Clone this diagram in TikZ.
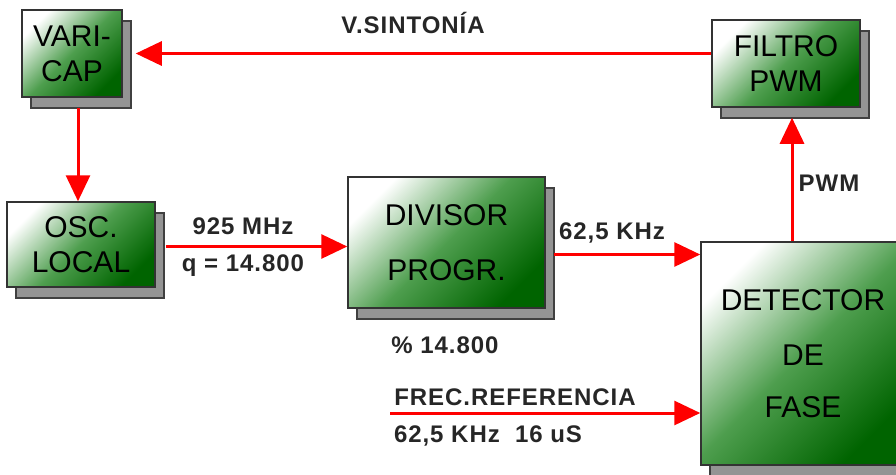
\documentclass[tikz,border=0pt]{standalone}
\usepackage{fontspec}
\setmainfont{Liberation Sans}
\usetikzlibrary{arrows.meta, shadows, positioning}
\definecolor{boxgreen}{RGB}{0,100,0}
\definecolor{midgreen}{RGB}{78,158,78}
\definecolor{sigred}{RGB}{255,0,0}
\begin{document}
\begin{tikzpicture}[x=1pt,y=-1pt]
\tikzstyle{block} = [
	shape=rectangle,
	draw=black!80, %dark border round the box
	line width=1.5pt,
	top color=white, bottom color=boxgreen, middle color=midgreen,
	shading angle=45, %white in the upper left corner
	inner sep=0pt,
	align=center,
	font=\fontsize{30}{35}\selectfont,
	general shadow={shadow xshift=9pt, shadow yshift=-11pt, fill=black!42, draw=black!75, line width=1.2pt}
];
\tikzstyle{sig} = [-{Triangle[length=26pt,width=24pt]}, line width=3pt, color=sigred];
\tikzstyle{lbl} = [font=\bfseries\fontsize{24}{28}\selectfont\addfontfeature{LetterSpace=4}, text=black!85, inner sep=0pt];

\useasboundingbox (0,0) rectangle (896,474);

%blocks
\node[block, minimum width=100pt, minimum height=87pt](vari) at (72,53.5) {VARI-\\CAP};
\node[block, minimum width=148pt, minimum height=87pt](filtro) at (786,63.5) {FILTRO\\PWM};
\node[block, minimum width=148pt, minimum height=85pt](osc) at (81,244.5) {OSC.\\LOCAL};
\node[block, minimum width=197pt, minimum height=131pt](divisor) at (446.5,242.5) {DIVISOR\\[20pt]PROGR.};
\node[block, minimum width=204pt, minimum height=223pt](detector) at (803,353.5) {DETECTOR\\[20pt]DE\\[17pt]FASE};

%free ends and shadow edges
\coordinate (dout) at ([xshift=8pt,yshift=-12pt]divisor.east);
\coordinate (ref) at (390,413);
\coordinate (pwmin) at ([xshift=-11pt]detector.north);
\coordinate (fbot) at ([yshift=-10pt]filtro.south);

%signal paths
\draw[sig] (filtro.west |- vari.east) -- ([xshift=13pt]vari.east);
\draw[sig] ([xshift=6pt,yshift=-10pt]vari.south) -- ([xshift=6pt]vari.south |- osc.north);
\draw[sig] ([xshift=10pt,yshift=-2pt]osc.east) -- ([yshift=-2pt]divisor.west |- osc.east);
\draw[sig] (dout) -- (dout -| detector.west);
\draw[sig] (ref) -- (ref -| detector.west);
\draw[sig] (pwmin) -- (pwmin |- fbot);

%labels
\node[lbl](lsint) at (413,23) {V.SINTONÍA};
\node[lbl](lmhz) at (243,226) {925 MHz};
\node[lbl](lq) at (243,266) {q = 14.800};
\node[lbl](lkhz) at (612,233) {62,5 KHz};
\node[lbl](ldiv) at (445,345) {\% 14.800};
\node[lbl](lref) at (515,397) {FREC.REFERENCIA};
\node[lbl](lper) at (488,436) {62,5 KHz\ \ 16 uS};
\node[lbl](lpwm) at (829,183) {PWM};

\end{tikzpicture}
\end{document}
